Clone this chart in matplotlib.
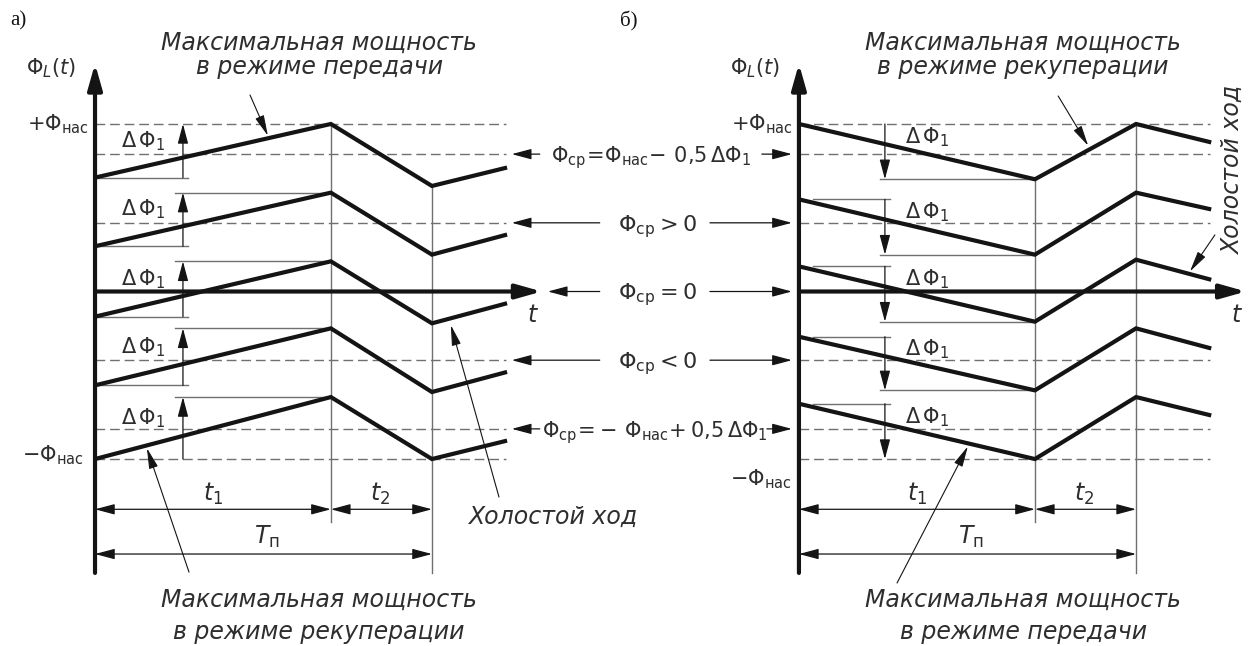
import matplotlib
matplotlib.use('Agg')
import matplotlib.pyplot as plt
from matplotlib import transforms

# values: flux in units of Φнас, time in units of Tп
t_marks = [0.0, 0.70, 1.0, 1.223]   # 0, t1, Tп, end of the idle run

# а) flux at 0, t1, Tп and end of idle run, one entry per curve (top to bottom)
a_start = [0.68, 0.27, -0.15, -0.56, -1.0]
a_peak = [1.0, 0.59, 0.18, -0.22, -0.63]
a_trough = [0.63, 0.22, -0.19, -0.60, -1.0]
a_idle = [0.74, 0.34, -0.07, -0.48, -0.89]

# б) same, mirrored regime
b_start = [1.0, 0.55, 0.15, -0.27, -0.67]
b_trough = [0.67, 0.22, -0.18, -0.59, -1.0]
b_peak = [1.0, 0.59, 0.19, -0.22, -0.63]
b_idle = [0.89, 0.49, 0.07, -0.34, -0.74]

phi_sat = 1.0
phi_avg = [0.82, 0.41, 0.0, -0.41, -0.82]
avg_labels = [r'$\Phi_{\mathrm{ср}}\!=\!\Phi_{\mathrm{нас}}\!-\,0{,}5\,\Delta\Phi_1$',
              r'$\Phi_{\mathrm{ср}} > 0$',
              r'$\Phi_{\mathrm{ср}} = 0$',
              r'$\Phi_{\mathrm{ср}} < 0$',
              r'$\Phi_{\mathrm{ср}}\!=\!-\,\Phi_{\mathrm{нас}}\!+0{,}5\,\Delta\Phi_1$']

plt.rcParams['font.family'] = 'DejaVu Sans'
plt.rcParams['mathtext.fontset'] = 'dejavusans'

INK = '#141414'
GREY = '#707070'
TXT = '#2e2e2e'

AXIS = dict(arrowstyle='-|>,head_length=0.85,head_width=0.24', mutation_scale=18,
            lw=3.0, color=INK, shrinkA=0, shrinkB=0)
SMALL = dict(arrowstyle='-|>,head_length=0.75,head_width=0.2', mutation_scale=16,
             lw=0.9, color=INK, shrinkA=0, shrinkB=0)
DIM = dict(arrowstyle='<|-|>,head_length=0.75,head_width=0.2', mutation_scale=16,
           lw=0.9, color=INK, shrinkA=0, shrinkB=0)
LEAD = dict(arrowstyle='-|>,head_length=0.9,head_width=0.2', mutation_scale=14,
            lw=0.8, color=INK, shrinkA=0, shrinkB=0)

fig = plt.figure(figsize=(12.51, 6.46), dpi=100)
ax_a = fig.add_axes([0, 0, 625 / 1251, 1])
ax_b = fig.add_axes([625 / 1251, 0, 626 / 1251, 1])
ax_a.set_xlim(-0.282, 1.573)
ax_b.set_xlim(-0.516, 1.341)
for ax in (ax_a, ax_b):
    ax.set_ylim(-2.116, 1.740)
    ax.axis('off')


def draw_panel(ax, v0, v1, v2, v3, rising, brk, dlab):
    t0, t1, tp, te = t_marks
    # dashed reference levels
    for lev in [phi_sat, phi_avg[0], phi_avg[1], phi_avg[3], phi_avg[4], -phi_sat]:
        ax.plot([t0, 1.22], [lev, lev], color=GREY, lw=1.0, ls=(0, (7, 3.5)), zorder=1)
    # guides at t1 and Tп
    ax.plot([t1, t1], [v1[0], -1.376], color=GREY, lw=1.0, zorder=1)
    ax.plot([tp, tp], [v2[0], -1.68], color=GREY, lw=1.0, zorder=1)
    # flux curves
    for a, b, c, d in zip(v0, v1, v2, v3):
        ax.plot(t_marks, [a, b, c, d], color=INK, lw=3.0, zorder=4,
                solid_joinstyle='miter', solid_capstyle='butt')
    # ΔΦ1 brackets
    xa, hi_x, lo_x = brk
    for a, b in zip(v0, v1):
        hi, lo = max(a, b), min(a, b)
        if abs(hi) < 0.99:
            ax.plot(hi_x, [hi, hi], color=GREY, lw=1.0, zorder=2)
        if abs(lo) < 0.99:
            ax.plot(lo_x, [lo, lo], color=GREY, lw=1.0, zorder=2)
        if rising:
            ax.annotate('', xy=(xa, hi), xytext=(xa, lo), arrowprops=SMALL, zorder=3)
        else:
            ax.annotate('', xy=(xa, lo), xytext=(xa, hi), arrowprops=SMALL, zorder=3)
        ax.text(dlab[0], (hi + lo) / 2 + dlab[1], r'$\Delta\,\Phi_1$', fontsize=15,
                color=TXT, ha='center', va='center', zorder=5)
    # axes with arrows
    ax.annotate('', xy=(0, 1.36), xytext=(0, -1.68), arrowprops=AXIS, zorder=6)
    ax.annotate('', xy=(1.326, 0), xytext=(0, 0), arrowprops=AXIS, zorder=6)
    ax.text(-0.13, 1.334, r'$\Phi_L(t)$', fontsize=15, color=TXT, ha='center', va='center')
    ax.text(1.30, -0.14, r'$t$', fontsize=17, color=TXT, ha='center', va='center')
    ax.text(-0.02, 1.0, r'$+\Phi_{\mathrm{нас}}$', fontsize=15, color=TXT, ha='right', va='center')
    # time dimensions
    ax.annotate('', xy=(t1, -1.30), xytext=(t0, -1.30), arrowprops=DIM)
    ax.annotate('', xy=(tp, -1.30), xytext=(t1, -1.30), arrowprops=DIM)
    ax.annotate('', xy=(tp, -1.567), xytext=(t0, -1.567), arrowprops=DIM)
    ax.text(0.35, -1.21, r'$t_1$', fontsize=17, color=TXT, ha='center', va='center')
    ax.text(0.845, -1.21, r'$t_2$', fontsize=17, color=TXT, ha='center', va='center')
    ax.text(0.51, -1.466, r'$T_{\mathrm{п}}$', fontsize=17, color=TXT, ha='center', va='center')


def note(ax, x, lines, ys):
    for s, y in zip(lines, ys):
        ax.text(x, y, s, fontsize=17, style='italic', color=TXT, ha='center', va='center')


draw_panel(ax_a, a_start, a_peak, a_trough, a_idle, True,
           (0.261, [0.237, t_marks[1]], [0.0, 0.276]), (0.142, 0.06))
draw_panel(ax_b, b_start, b_trough, b_peak, b_idle, False,
           (0.255, [0.042, 0.27], [0.24, t_marks[1]]), (0.38, 0.087))

ax_a.text(-0.033, -0.976, r'$-\Phi_{\mathrm{нас}}$', fontsize=15, color=TXT, ha='right', va='center')
ax_b.text(-0.021, -1.12, r'$-\Phi_{\mathrm{нас}}$', fontsize=15, color=TXT, ha='right', va='center')

# annotations, panel а)
note(ax_a, 0.665, ['Максимальная мощность', 'в режиме передачи'], [1.484, 1.340])
ax_a.annotate('', xy=(0.513, 0.93), xytext=(0.46, 1.173), arrowprops=LEAD)
note(ax_a, 0.665, ['Максимальная мощность', 'в режиме рекуперации'], [-1.842, -2.033])
ax_a.annotate('', xy=(0.154, -0.935), xytext=(0.279, -1.675), arrowprops=LEAD)
ax_a.text(1.107, -1.346, 'Холостой ход', fontsize=17, style='italic', color=TXT,
          ha='left', va='center')
ax_a.annotate('', xy=(1.056, -0.20), xytext=(1.199, -1.227), arrowprops=LEAD)

# annotations, panel б)
note(ax_b, 0.665, ['Максимальная мощность', 'в режиме рекуперации'], [1.484, 1.340])
ax_b.annotate('', xy=(0.858, 0.87), xytext=(0.769, 1.167), arrowprops=LEAD)
note(ax_b, 0.665, ['Максимальная мощность', 'в режиме передачи'], [-1.842, -2.033])
ax_b.annotate('', xy=(0.501, -0.925), xytext=(0.291, -1.74), arrowprops=LEAD)
ax_b.text(1.288, 0.726, 'Холостой ход', fontsize=17, style='italic', color=TXT,
          rotation=90, ha='center', va='center')
ax_b.annotate('', xy=(1.16, 0.12), xytext=(1.234, 0.338), arrowprops=LEAD)

# average-flux labels between the panels
mid = transforms.blended_transform_factory(fig.transFigure, ax_a.transData)
label_x = [651, 657, 657, 657, 655]
label_size = [15, 16, 16, 16, 15]
left_tip = [1.237, 1.237, 1.344, 1.237, 1.237]
left_tail = [1.32, 1.498, 1.498, 1.498, 1.32]
right_tail = [-0.11, -0.264, -0.264, -0.264, -0.095]
for k, (lev, s) in enumerate(zip(phi_avg, avg_labels)):
    ax_a.text(label_x[k] / 1251, lev - 0.05, s, fontsize=label_size[k], color=TXT,
              ha='center', va='baseline', transform=mid)
    ax_a.annotate('', xy=(left_tip[k], lev), xytext=(left_tail[k], lev), arrowprops=SMALL)
    ax_b.annotate('', xy=(-0.021, lev), xytext=(right_tail[k], lev), arrowprops=SMALL)

fig.text(10 / 1251, 1 - 21 / 646, 'а)', fontsize=15, family='Liberation Serif',
         color=INK, ha='left', va='center')
fig.text(620 / 1251, 1 - 21 / 646, 'б)', fontsize=15, family='Liberation Serif',
         color=INK, ha='left', va='center')

fig.savefig('out.png', dpi=100, facecolor='white')
